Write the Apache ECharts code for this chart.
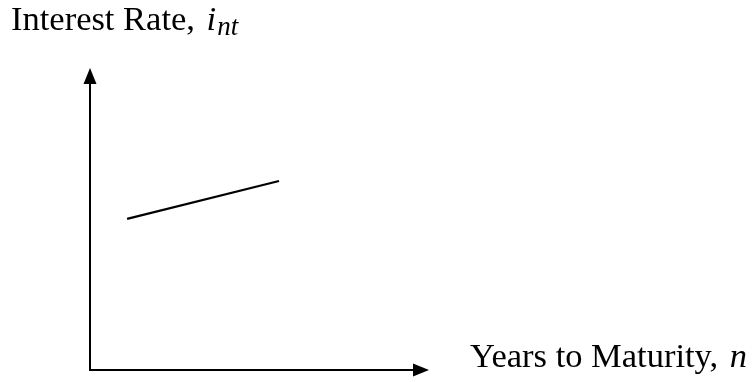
<!DOCTYPE html>
<html><head><meta charset="utf-8">
<script src="https://cdn.jsdelivr.net/npm/echarts@6/dist/echarts.min.js"></script>
<style>html,body{margin:0;padding:0;background:#fff}#c{width:752px;height:382px}</style>
</head><body><div id="c"></div>
<script>
const maturity = [11.2, 57.1];
const rate = [51.4, 64.3];
const yLabel = 'Interest Rate, ';
const yVar = 'i';
const ySub = 'nt';
const xLabel = 'Years to Maturity, ';
const xVar = 'n';

const chart = echarts.init(document.getElementById('c'));
const font = 'Liberation Serif';
const fs = 34.5;
const rich = {
  t: {fontFamily: font, fontSize: fs, fill: '#000', color: '#000'},
  v: {fontFamily: font, fontStyle: 'italic', fontSize: fs, fill: '#000', color: '#000', padding: [0, 0, 0, 3]},
  s: {fontFamily: font, fontStyle: 'italic', fontSize: 27, fill: '#000', color: '#000', padding: [14, 0, 0, 1]}
};
chart.setOption({
  animation: false,
  grid: {left: 90, right: 331, top: 76, bottom: 12},
  xAxis: {type: 'value', min: 0, max: 100,
    axisLine: {show: true, onZero: false, lineStyle: {color: '#000', width: 2}, symbol: ['none', 'triangle'], symbolSize: [13, 16]},
    axisTick: {show: false}, axisLabel: {show: false}, splitLine: {show: false}
  },
  yAxis: {type: 'value', min: 0, max: 100,
    axisLine: {show: true, onZero: false, lineStyle: {color: '#000', width: 2}, symbol: ['none', 'triangle'], symbolSize: [13, 16]},
    axisTick: {show: false}, axisLabel: {show: false}, splitLine: {show: false}
  },
  graphic: [
    {type: 'text', left: 11, top: 3, style: {text: '{t|' + yLabel + '}{v|' + yVar + '}{s|' + ySub + '}', rich: rich}},
    {type: 'text', left: 470, top: 340, style: {text: '{t|' + xLabel + '}{v|' + xVar + '}', rich: rich}}
  ],
  series: [{type: 'line', data: maturity.map((x, i) => [x, rate[i]]), symbol: 'none',
    lineStyle: {color: '#000', width: 2.2}}]
});
</script></body></html>
